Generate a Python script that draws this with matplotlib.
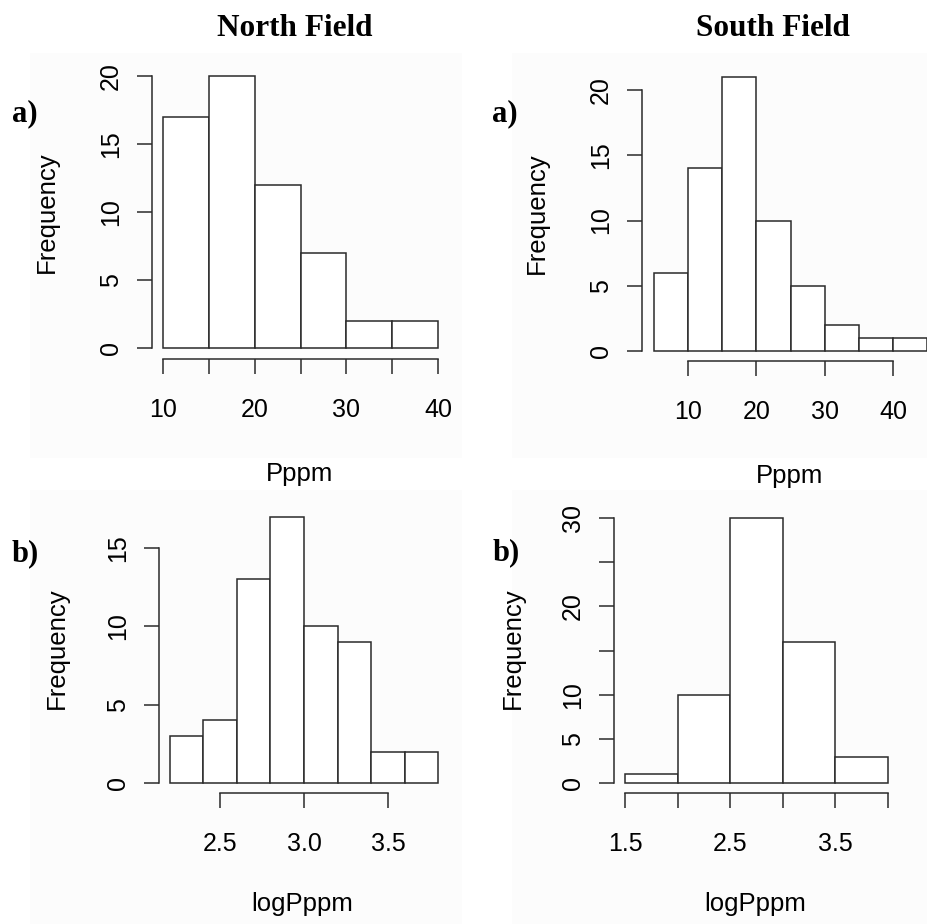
import numpy as np
import matplotlib
matplotlib.use("Agg")
import matplotlib.pyplot as plt
from matplotlib.patches import Rectangle

# Histogram data: bin edges and counts for each field
north_p_edges = [10, 15, 20, 25, 30, 35, 40]
north_p_counts = [17, 20, 12, 7, 2, 2]

south_p_edges = [5, 10, 15, 20, 25, 30, 35, 40, 45]
south_p_counts = [6, 14, 21, 10, 5, 2, 1, 1]

north_log_edges = [2.2, 2.4, 2.6, 2.8, 3.0, 3.2, 3.4, 3.6, 3.8]
north_log_counts = [3, 4, 13, 17, 10, 9, 2, 2]

south_log_edges = [1.5, 2.0, 2.5, 3.0, 3.5, 4.0]
south_log_counts = [1, 10, 30, 16, 3]

# Tick positions and labels
north_p_xticks = [10, 15, 20, 25, 30, 35, 40]
north_p_xlabels = ["10", "", "20", "", "30", "", "40"]
north_p_yticks = [0, 5, 10, 15, 20]

south_p_xticks = [10, 20, 30, 40]
south_p_xlabels = ["10", "20", "30", "40"]
south_p_yticks = [0, 5, 10, 15, 20]

north_log_xticks = [2.5, 3.0, 3.5]
north_log_xlabels = ["2.5", "3.0", "3.5"]
north_log_yticks = [0, 5, 10, 15]

south_log_xticks = [1.5, 2.0, 2.5, 3.0, 3.5, 4.0]
south_log_xlabels = ["1.5", "", "2.5", "", "3.5", ""]
south_log_yticks = [0, 5, 10, 15, 20, 25, 30]
south_log_ylabels = ["0", "5", "10", "", "20", "", "30"]

W, H = 927, 924
DPI = 100
fig = plt.figure(figsize=(W / DPI, H / DPI), dpi=DPI)
fig.patch.set_facecolor("white")

SANS = "Liberation Sans"
SERIF = "Liberation Serif"
LINE = "#2a2a2a"
PX2PT = 72.0 / DPI

# faint panel backgrounds
for (x0, y0, x1, y1) in [(30, 53, 462, 458), (512, 53, 927, 458),
                         (30, 490, 462, 924), (512, 490, 927, 924)]:
    fig.patches.append(Rectangle((x0 / W, 1 - y1 / H), (x1 - x0) / W, (y1 - y0) / H,
                                 transform=fig.transFigure, facecolor="#fcfcfc",
                                 edgecolor="none", zorder=-5))


def panel(edges, counts, xlim, px, ylim, py, spine_x, spine_y,
          xticks, xlabels, yticks, ylabels, xbounds, ybounds):
    left, right = px[0] / W, px[1] / W
    bottom, top = 1 - py[0] / H, 1 - py[1] / H
    ax = fig.add_axes([left, bottom, right - left, top - bottom])
    ax.set_xlim(xlim)
    ax.set_ylim(ylim)
    ax.patch.set_visible(False)
    widths = np.diff(edges)
    ax.bar(edges[:-1], counts, width=widths, align="edge", facecolor="white",
           edgecolor=LINE, linewidth=1.1, clip_on=False)
    for s in ("top", "right"):
        ax.spines[s].set_visible(False)
    ax.spines["left"].set_position(("outward", (px[0] - spine_x) * PX2PT))
    ax.spines["bottom"].set_position(("outward", (spine_y - py[0]) * PX2PT))
    ax.spines["left"].set_bounds(*ybounds)
    ax.spines["bottom"].set_bounds(*xbounds)
    for s in ("left", "bottom"):
        ax.spines[s].set_color(LINE)
        ax.spines[s].set_linewidth(1.1)
    ax.set_xticks(xticks)
    ax.set_xticklabels(xlabels, fontfamily=SANS, fontsize=18)
    ax.set_yticks(yticks)
    ax.set_yticklabels(ylabels, fontfamily=SANS, fontsize=18, rotation=90, va="center")
    ax.tick_params(axis="both", length=15 * PX2PT, width=1.1, color=LINE)
    ax.tick_params(axis="x", pad=17)
    ax.tick_params(axis="y", pad=10)
    return ax


panel(north_p_edges, north_p_counts, (10, 40), (163, 438), (0, 20), (348, 76), 152, 359,
      north_p_xticks, north_p_xlabels, north_p_yticks, [str(v) for v in north_p_yticks],
      (10, 40), (0, 20))
panel(south_p_edges, south_p_counts, (5, 45), (653.5, 927.5), (0, 20), (351, 90), 642, 361,
      south_p_xticks, south_p_xlabels, south_p_yticks, [str(v) for v in south_p_yticks],
      (10, 40), (0, 20))
panel(north_log_edges, north_log_counts, (2.2, 3.8), (169.6, 438.4), (0, 15), (783, 548), 159, 793,
      north_log_xticks, north_log_xlabels, north_log_yticks, [str(v) for v in north_log_yticks],
      (2.5, 3.5), (0, 15))
panel(south_log_edges, south_log_counts, (1.5, 4.0), (625, 888), (0, 30), (783, 518), 614, 793,
      south_log_xticks, south_log_xlabels, south_log_yticks, south_log_ylabels,
      (1.5, 4.0), (0, 30))


def ftext(x, y, s, **kw):
    fig.text(x / W, 1 - y / H, s, ha="center", va="center", **kw)


# column titles and panel letters
ftext(295, 28, "North Field", fontfamily=SERIF, fontweight="bold", fontsize=22.5)
ftext(773, 28, "South Field", fontfamily=SERIF, fontweight="bold", fontsize=22.5)
for (x, y, s) in [(25, 114, "a)"), (505, 114, "a)"), (25, 554, "b)"), (506, 553, "b)")]:
    ftext(x, y, s, fontfamily=SERIF, fontweight="bold", fontsize=22)

# axis titles
for (x, y) in [(47, 212), (537, 213), (57, 648), (513, 648)]:
    ftext(x, y, "Frequency", fontfamily=SANS, fontsize=18.5, rotation=90)
ftext(300, 474, "Pppm", fontfamily=SANS, fontsize=18.5)
ftext(790, 476, "Pppm", fontfamily=SANS, fontsize=18.5)
ftext(302, 904, "logPppm", fontfamily=SANS, fontsize=18.5)
ftext(755, 904, "logPppm", fontfamily=SANS, fontsize=18.5)

fig.savefig("out.png", dpi=DPI)
